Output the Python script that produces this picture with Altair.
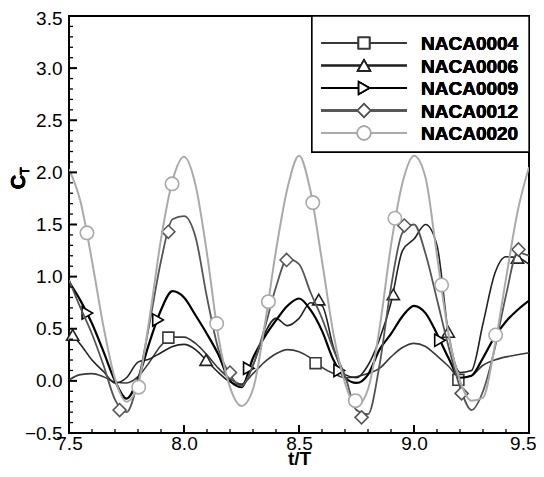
import altair as alt
import pandas as pd

# ---------------- data ----------------
T = [7.50, 7.55, 7.60, 7.65, 7.70, 7.75, 7.80, 7.85, 7.90, 7.95,
     8.00, 8.05, 8.10, 8.15, 8.20, 8.25, 8.30, 8.35, 8.40, 8.45,
     8.50, 8.55, 8.60, 8.65, 8.70, 8.75, 8.80, 8.85, 8.90, 8.95,
     9.00, 9.05, 9.10, 9.15, 9.20, 9.25, 9.30, 9.35, 9.40, 9.45, 9.50]

NACA0004 = [0.01, 0.06, 0.07, 0.04, -0.01, -0.02, 0.04, 0.18, 0.34, 0.42,
            0.42, 0.36, 0.25, 0.12, 0.02, -0.03, 0.07, 0.18, 0.26, 0.30,
            0.28, 0.22, 0.13, 0.07, 0.03, 0.04, 0.07, 0.12, 0.23, 0.32,
            0.36, 0.33, 0.24, 0.14, 0.03, 0.05, 0.15, 0.20, 0.23, 0.25, 0.27]

NACA0006 = [0.47, 0.35, 0.20, 0.09, -0.02, 0.03, 0.18, 0.21, 0.27, 0.33,
            0.35, 0.30, 0.19, 0.08, -0.01, -0.04, 0.15, 0.45, 0.60, 0.53,
            0.60, 0.75, 0.72, 0.32, 0.06, 0.03, 0.15, 0.40, 0.75, 1.25,
            1.36, 1.50, 1.30, 0.45, 0.08, 0.10, 0.55, 1.02, 1.19, 1.18, 1.12]

NACA0009 = [0.95, 0.77, 0.55, 0.28, 0.00, -0.17, 0.02, 0.37, 0.68, 0.86,
            0.80, 0.63, 0.45, 0.25, 0.00, -0.06, 0.22, 0.42, 0.58, 0.72,
            0.79, 0.68, 0.48, 0.20, 0.03, -0.02, 0.06, 0.30, 0.45, 0.62,
            0.72, 0.65, 0.45, 0.22, 0.03, 0.05, 0.22, 0.42, 0.57, 0.68, 0.77]

NACA0012 = [0.97, 0.70, 0.45, 0.15, -0.18, -0.30, 0.00, 0.55, 1.15, 1.55,
            1.58, 1.38, 0.80, 0.30, 0.06, -0.05, 0.15, 0.50, 0.90, 1.17,
            1.12, 0.85, 0.60, 0.30, 0.05, -0.28, -0.32, 0.15, 0.90, 1.42,
            1.50, 1.22, 0.78, 0.33, -0.06, -0.28, -0.10, 0.30, 0.82, 1.23, 1.20]

NACA0020 = [2.03, 1.72, 1.15, 0.52, 0.02, -0.20, -0.04, 0.60, 1.36, 1.92,
            2.15, 1.88, 1.22, 0.42, -0.06, -0.24, -0.08, 0.52, 1.25, 1.85,
            2.16, 1.82, 1.15, 0.45, -0.02, -0.24, -0.08, 0.50, 1.30, 1.90,
            2.16, 1.95, 1.20, 0.45, 0.00, -0.19, -0.16, 0.32, 0.98, 1.62, 2.05]

# marker positions (t, C)
M0004_t = [7.932, 8.572, 9.193]
M0004_c = [0.415, 0.17, 0.01]
M0006_t = [7.516, 8.096, 8.586, 8.910, 9.149, 9.450]
M0006_c = [0.44, 0.20, 0.78, 0.83, 0.47, 1.18]
M0009_t = [7.580, 7.887, 8.282, 8.675, 9.113]
M0009_c = [0.65, 0.585, 0.12, 0.10, 0.39]
M0012_t = [7.720, 7.932, 8.200, 8.446, 8.772, 8.958, 9.207, 9.454]
M0012_c = [-0.28, 1.43, 0.08, 1.16, -0.35, 1.49, -0.12, 1.26]
M0020_t = [7.578, 7.803, 7.948, 8.142, 8.367, 8.560, 8.745, 8.917, 9.120, 9.355]
M0020_c = [1.42, -0.06, 1.89, 0.55, 0.76, 1.71, -0.19, 1.56, 0.92, 0.44]

names = ["NACA0004", "NACA0006", "NACA0009", "NACA0012", "NACA0020"]
series = [NACA0004, NACA0006, NACA0009, NACA0012, NACA0020]
markers_t = [M0004_t, M0006_t, M0009_t, M0012_t, M0020_t]
markers_c = [M0004_c, M0006_c, M0009_c, M0012_c, M0020_c]
colors = ["#3a3a3a", "#222222", "#000000", "#555555", "#aaaaaa"]
shapes = ["square", "triangle-up", "triangle-right", "diamond", "circle"]
sizes = [120, 150, 150, 170, 180]
widths = [1.6, 1.6, 2.2, 1.8, 2.0]

x_ticks = [7.5, 8.0, 8.5, 9.0, 9.5]
x_minor = [7.6, 7.7, 7.8, 7.9, 8.1, 8.2, 8.3, 8.4, 8.6, 8.7, 8.8, 8.9,
           9.1, 9.2, 9.3, 9.4]
y_ticks = [-0.5, 0.0, 0.5, 1.0, 1.5, 2.0, 2.5, 3.0, 3.5]
y_minor = [-0.4, -0.3, -0.2, -0.1, 0.1, 0.2, 0.3, 0.4, 0.6, 0.7, 0.8, 0.9,
           1.1, 1.2, 1.3, 1.4, 1.6, 1.7, 1.8, 1.9, 2.1, 2.2, 2.3, 2.4,
           2.6, 2.7, 2.8, 2.9, 3.1, 3.2, 3.3, 3.4]

W, H = 460, 417
FONT = "Liberation Sans"

xs = alt.Scale(domain=[7.5, 9.5], nice=False, zero=False)
ys = alt.Scale(domain=[-0.5, 3.5], nice=False, zero=False)

x_axis = alt.Axis(values=x_ticks, format=".1f", title="t/T", ticks=False, tickSize=0,
                  domain=False, grid=False, labelFontSize=19, labelFont=FONT,
                  labelColor="black", labelPadding=1, titleFont=FONT, titleFontSize=19,
                  titleFontWeight="bold", titleColor="black", titlePadding=-4,
                  labelFlush=False,
                  labelAlign={"condition": {"test": "datum.value >= 9.49", "value": "right"},
                              "value": "center"},
                  labelOffset={"condition": {"test": "datum.value >= 9.49", "value": 7},
                               "value": 0})
y_axis = alt.Axis(values=y_ticks, format=".1f", title=None, ticks=False, tickSize=0,
                  domain=False, grid=False, labelFontSize=19, labelFont=FONT,
                  labelColor="black", labelPadding=7, labelFlush=False,
                  labelOffset={"condition": {"test": "datum.value >= 3.49", "value": 2},
                               "value": 0})

layers = []
# base layer carrying axes
base_df = pd.DataFrame({"t": x_ticks})
layers.append(
    alt.Chart(base_df).mark_point(opacity=0).encode(
        x=alt.X("t:Q", scale=xs, axis=x_axis),
        y=alt.Y("t:Q", scale=ys, axis=y_axis),
    )
)

for name, vals, mt, mc, col, shp, sz, lw in zip(names, series, markers_t, markers_c,
                                                colors, shapes, sizes, widths):
    df = pd.DataFrame({"t": T, "c": vals})
    layers.append(
        alt.Chart(df).mark_line(color=col, strokeWidth=lw, interpolate="monotone",
                                clip=True).encode(
            x=alt.X("t:Q", scale=xs), y=alt.Y("c:Q", scale=ys)
        )
    )
    mdf = pd.DataFrame({"t": mt, "c": mc})
    layers.append(
        alt.Chart(mdf).mark_point(shape=shp, size=sz, filled=False, fill="white",
                                  fillOpacity=1, stroke=col, strokeWidth=1.6,
                                  opacity=1).encode(
            x=alt.X("t:Q", scale=xs), y=alt.Y("c:Q", scale=ys)
        )
    )

# inward ticks
layers.append(alt.Chart(pd.DataFrame({"v": x_ticks})).mark_rule(color="black", strokeWidth=2)
              .encode(x=alt.X("v:Q", scale=xs), y=alt.value(H), y2=alt.value(H - 8)))
layers.append(alt.Chart(pd.DataFrame({"v": x_minor})).mark_rule(color="black", strokeWidth=1.3)
              .encode(x=alt.X("v:Q", scale=xs), y=alt.value(H), y2=alt.value(H - 4)))
layers.append(alt.Chart(pd.DataFrame({"v": y_ticks})).mark_rule(color="black", strokeWidth=2)
              .encode(y=alt.Y("v:Q", scale=ys), x=alt.value(0), x2=alt.value(8)))
layers.append(alt.Chart(pd.DataFrame({"v": y_minor})).mark_rule(color="black", strokeWidth=1.3)
              .encode(y=alt.Y("v:Q", scale=ys), x=alt.value(0), x2=alt.value(4)))

# y-axis title C_T
layers.append(alt.Chart(base_df).mark_text(text="C", font=FONT, fontSize=20, fontWeight="bold",
                                           angle=270, align="center", baseline="middle",
                                           color="black")
              .encode(x=alt.value(-50), y=alt.value(166)))
layers.append(alt.Chart(base_df).mark_text(text="T", font=FONT, fontSize=12, fontWeight="bold",
                                           angle=270, align="center", baseline="middle",
                                           color="black")
              .encode(x=alt.value(-44), y=alt.value(155)))

# legend box
LX0, LX1, LY0, LY1 = 243, 460, 0, 136
layers.append(alt.Chart(base_df).mark_rect(fill="white", stroke="black", strokeWidth=1.3)
              .encode(x=alt.value(LX0), x2=alt.value(LX1), y=alt.value(LY0), y2=alt.value(LY1)))
for i, (name, col, shp, sz, lw) in enumerate(zip(names, colors, shapes, sizes, widths)):
    yy = 27 + 22.5 * i
    layers.append(alt.Chart(base_df).mark_rule(color=col, strokeWidth=lw)
                  .encode(x=alt.value(252), x2=alt.value(338), y=alt.value(yy)))
    layers.append(alt.Chart(base_df).mark_point(shape=shp, size=sz, filled=False, fill="white",
                                                fillOpacity=1, stroke=col, strokeWidth=1.6,
                                                opacity=1)
                  .encode(x=alt.value(295), y=alt.value(yy)))
    layers.append(alt.Chart(base_df).mark_text(text=name, font=FONT, fontSize=19,
                                               fontWeight="bold", align="left",
                                               baseline="middle", color="black")
                  .encode(x=alt.value(352), y=alt.value(yy + 1)))

chart = alt.layer(*layers).properties(
    width=W, height=H,
    autosize=alt.AutoSizeParams(type="none"),
    padding={"left": 61, "top": 8, "right": 7, "bottom": 36},
    background="white",
).configure_view(stroke="black", strokeWidth=2)

chart.save("out.html", embed_options={"renderer": "svg", "actions": False})
